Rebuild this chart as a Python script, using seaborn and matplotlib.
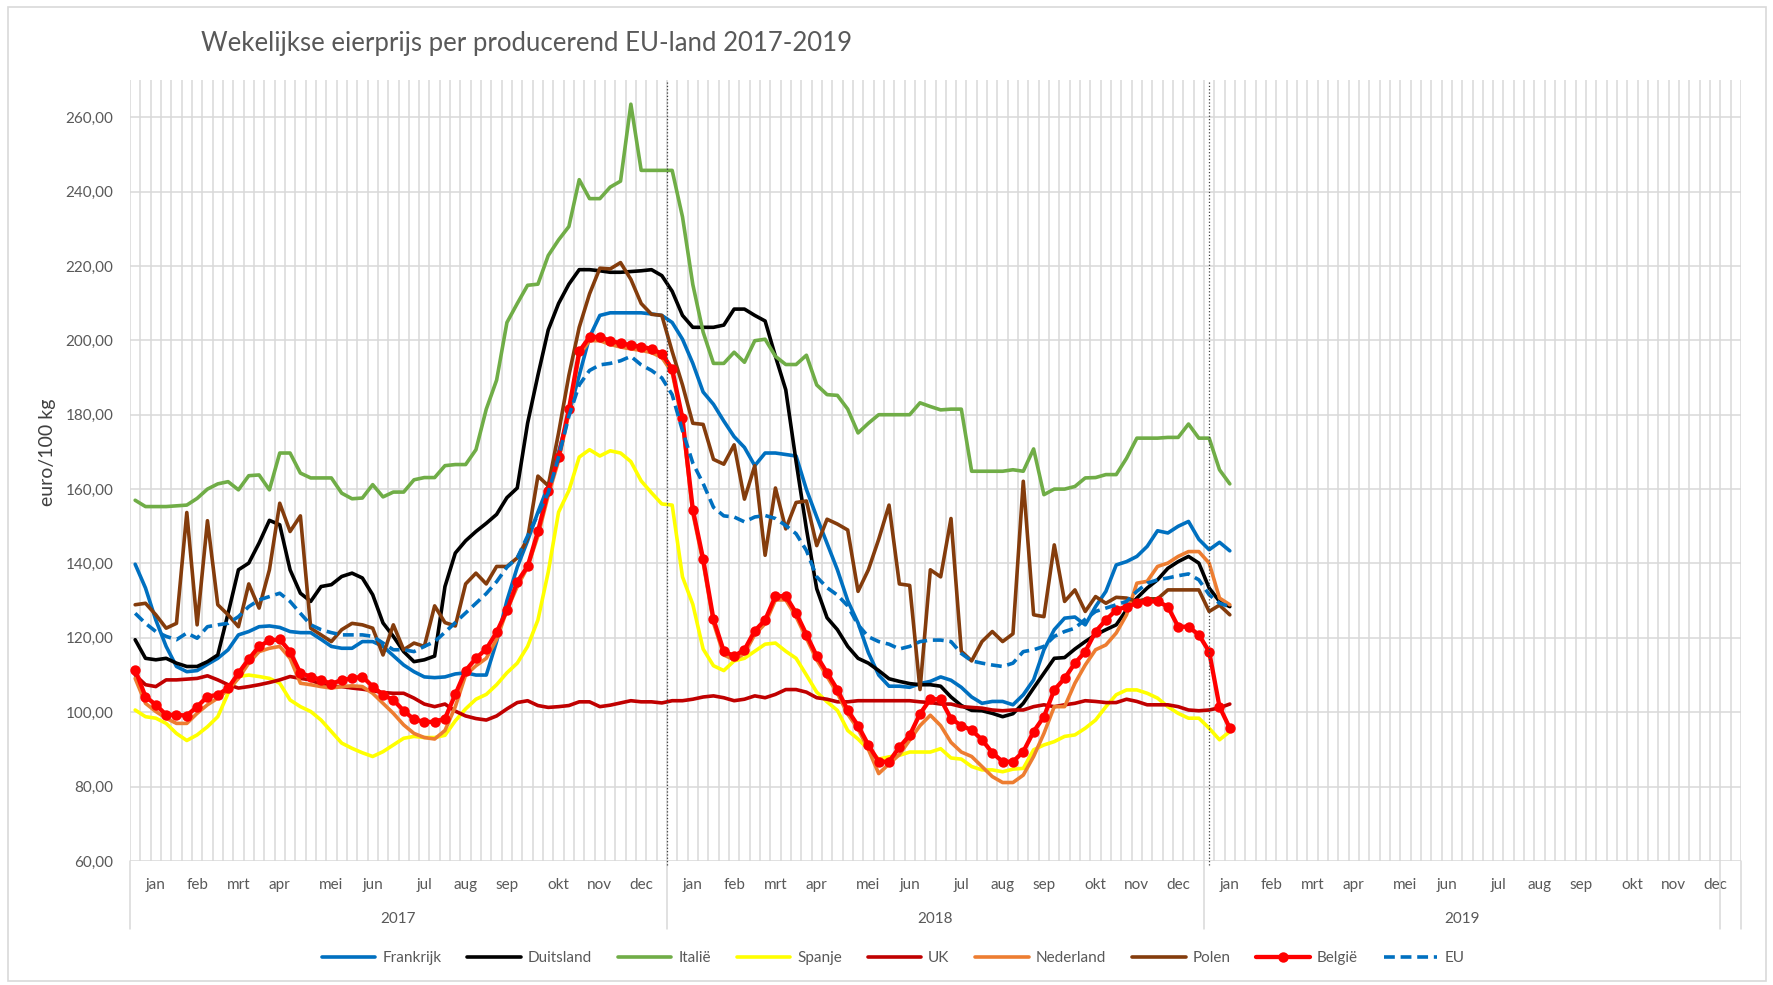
import numpy as np
import matplotlib
matplotlib.use("Agg")
import matplotlib.pyplot as plt
from matplotlib.patches import Rectangle
import seaborn as sns

# weekly prices (euro/100 kg), week 1 2017 .. week 3 2019
frankrijk = [139.8, 133.4, 124.8, 117.7, 112.3, 110.9, 111.2, 112.9, 114.5, 116.8,
             120.8, 121.7, 123.0, 123.2, 122.8, 121.7, 121.4, 121.4, 119.6, 117.7,
             117.2, 117.2, 119.0, 119.0, 117.7, 115.2, 112.7, 110.9,
             109.5, 109.3, 109.5, 110.3, 110.6, 110.0, 110.0, 119.0, 130.0, 139.0,
             146.1, 153.8, 160.9, 169.9, 180.3, 190.6, 200.9, 206.7, 207.4, 207.4,
             207.4, 207.4, 207.1, 206.7, 204.8, 200.3, 193.8,
             186.1, 182.8, 178.3, 174.1, 171.2, 166.3, 169.7, 169.7, 169.3, 168.9,
             159.9, 152.5, 145.4, 138.3, 130.0, 124.0, 116.0, 110.0, 107.0, 107.0,
             106.7, 107.7, 108.3, 109.5, 108.6, 106.7, 104.1,
             102.4, 102.9, 102.9, 102.0, 104.7, 108.7, 116.8, 122.2, 125.3, 125.6,
             123.5, 128.4, 132.5, 139.6, 140.5, 141.9, 144.6, 148.8, 148.2, 150.0,
             151.3, 146.5, 143.7, 145.7, 143.4]
duitsland = [119.5, 114.5, 114.1, 114.5, 113.2, 112.3, 112.3, 113.6, 115.4, 126.6,
             138.3, 140.1, 145.5, 151.6, 150.4, 138.3, 132.0, 129.8, 133.8, 134.3,
             136.5, 137.4, 136.1, 131.6, 124.0, 120.4, 116.3, 113.6,
             114.1, 115.1, 133.8, 142.8, 146.1, 148.6, 150.8, 153.2, 157.7, 160.3,
             177.7, 190.6, 202.8, 209.9, 215.1, 219.0, 219.0, 218.7, 218.3, 218.3,
             218.5, 218.7, 219.0, 217.4, 213.2, 206.7, 203.5,
             203.5, 203.5, 204.1, 208.4, 208.4, 206.7, 205.2, 195.7, 186.7, 167.4,
             149.3, 133.2, 125.4, 122.2, 117.7, 114.5, 113.2, 111.2, 109.0, 108.3,
             107.7, 107.4, 107.4, 107.0, 104.1, 101.8, 100.5,
             100.4, 99.7, 98.8, 99.6, 102.4, 106.5, 110.5, 114.5, 114.7, 117.0,
             119.0, 120.8, 122.2, 123.5, 127.5, 130.7, 133.4, 135.6, 138.7, 140.5,
             141.9, 140.1, 133.4, 129.8, 128.4]
italie = [157.0, 155.3, 155.3, 155.3, 155.5, 155.7, 157.5, 160.0, 161.4, 162.0,
          159.8, 163.6, 163.8, 159.8, 169.7, 169.7, 164.3, 163.0, 163.0, 163.0,
          158.9, 157.4, 157.6, 161.2, 157.9, 159.2, 159.2, 162.5,
          163.1, 163.1, 166.3, 166.6, 166.6, 170.6, 181.5, 189.3, 204.8, 209.9,
          214.8, 215.1, 222.8, 227.0, 230.6, 243.2, 238.1, 238.1, 241.2, 242.8,
          263.5, 245.7, 245.7, 245.7, 245.7, 233.2, 215.0,
          202.2, 193.8, 193.8, 196.8, 194.1, 199.9, 200.3, 195.7, 193.5, 193.5,
          196.0, 188.0, 185.4, 185.2, 181.5, 175.1, 177.7, 180.0, 180.0, 180.0,
          180.0, 183.2, 182.2, 181.3, 181.5, 181.5, 164.8,
          164.8, 164.8, 164.8, 165.2, 164.8, 170.8, 158.5, 160.0, 160.0, 160.7,
          163.0, 163.1, 163.9, 163.9, 168.3, 173.7, 173.7, 173.7, 173.9, 173.9,
          177.5, 173.7, 173.7, 165.2, 161.4]
spanje = [100.6, 98.8, 98.4, 97.0, 94.3, 92.4, 93.9, 96.1, 98.8, 105.1,
          109.6, 110.0, 109.6, 109.1, 107.8, 103.3, 101.5, 100.2, 97.9, 94.8,
          91.7, 90.3, 89.1, 88.1, 89.4, 91.2, 93.0, 93.5,
          93.2, 93.2, 93.8, 97.7, 100.9, 103.5, 104.8, 107.4, 110.6, 113.2,
          117.7, 124.8, 137.7, 153.8, 159.6, 168.6, 170.6, 168.9, 170.3, 169.7,
          167.4, 162.2, 159.0, 156.0, 155.7, 136.4, 129.0,
          117.0, 112.5, 111.2, 113.8, 114.5, 116.4, 118.3, 118.6, 116.4, 114.5,
          110.0, 105.4, 102.8, 100.5, 95.1, 92.8, 90.0, 87.4, 88.0, 88.4,
          89.3, 89.3, 89.3, 90.2, 87.7, 87.4, 85.4,
          84.5, 84.5, 84.0, 84.7, 84.9, 89.9, 91.2, 92.1, 93.5, 93.9,
          95.7, 97.9, 101.5, 104.7, 106.0, 106.0, 105.1, 103.8, 101.5, 99.7,
          98.4, 98.4, 95.7, 92.6, 94.8]
uk = [110.0, 107.4, 106.9, 108.7, 108.7, 108.9, 109.1, 109.8, 108.7, 107.4,
      106.5, 106.9, 107.4, 108.0, 108.7, 109.6, 109.1, 108.7, 107.4, 106.9,
      106.9, 106.5, 106.2, 105.8, 105.3, 105.1, 105.1, 103.8,
      102.2, 101.5, 102.2, 100.3, 99.0, 98.3, 97.9, 99.0, 100.9, 102.6,
      103.1, 101.8, 101.3, 101.5, 101.8, 102.8, 102.8, 101.5, 101.9, 102.5,
      103.1, 102.8, 102.8, 102.5, 103.1, 103.1, 103.5,
      104.1, 104.4, 103.9, 103.1, 103.5, 104.4, 103.9, 104.8, 106.1, 106.1,
      105.4, 103.9, 103.5, 102.8, 102.8, 103.1, 103.1, 103.1, 103.1, 103.1,
      103.1, 102.8, 102.6, 102.2, 102.2, 101.5, 101.3,
      101.1, 100.6, 100.4, 100.6, 100.6, 101.5, 102.0, 101.5, 102.0, 102.4,
      103.1, 102.9, 102.6, 102.6, 103.5, 102.9, 102.0, 102.0, 102.0, 101.5,
      100.6, 100.4, 100.6, 101.2, 102.2]
nederland = [109.1, 102.4, 100.2, 98.4, 97.0, 97.0, 99.7, 102.0, 103.8, 106.0,
             109.1, 113.2, 116.3, 117.2, 117.7, 114.5, 107.8, 107.4, 106.9, 106.5,
             106.9, 107.1, 106.9, 105.1, 102.4, 99.7, 96.6, 94.3,
             93.2, 92.8, 95.1, 101.5, 110.0, 112.5, 114.5, 119.6, 127.4, 133.8,
             139.0, 147.4, 158.3, 167.6, 180.5, 196.0, 199.9, 199.9, 198.9, 198.2,
             197.7, 197.3, 196.7, 195.4, 191.3, 178.0, 153.5,
             140.2, 124.0, 115.4, 114.1, 115.8, 120.9, 123.8, 130.2, 130.2, 125.7,
             119.9, 114.1, 109.6, 105.1, 99.5, 95.5, 90.0, 83.5, 86.1, 88.6,
             92.5, 96.4, 99.2, 96.4, 91.9, 89.3, 88.1,
             85.4, 82.7, 81.1, 81.1, 83.1, 88.1, 94.3, 101.5, 101.5, 107.8,
             112.7, 116.8, 118.1, 121.3, 126.2, 134.7, 135.2, 139.2, 140.1, 141.9,
             143.2, 143.2, 140.1, 130.7, 128.9]
polen = [128.9, 129.3, 126.2, 122.6, 123.9, 153.7, 123.5, 151.5, 128.9, 126.2,
         123.0, 134.5, 128.0, 138.3, 156.2, 148.6, 152.8, 122.6, 120.8, 119.0,
         122.2, 123.9, 123.5, 122.6, 115.4, 123.5, 116.8, 118.6,
         117.7, 128.6, 124.1, 123.2, 134.5, 137.4, 134.5, 139.2, 139.2, 141.5,
         146.7, 163.5, 160.9, 175.1, 190.6, 203.5, 212.5, 219.4, 219.2, 220.9,
         216.4, 209.9, 207.0, 206.7, 197.0, 188.0, 177.7,
         177.4, 168.0, 166.7, 171.9, 157.3, 166.3, 142.2, 160.3, 149.3, 156.4,
         156.8, 144.8, 151.9, 150.6, 149.0, 132.5, 138.3, 146.5, 155.7, 134.5,
         134.1, 106.1, 138.3, 136.4, 152.1, 116.4, 113.8,
         119.0, 121.7, 119.0, 121.1, 162.1, 126.2, 125.7, 145.0, 129.8, 132.9,
         127.1, 131.1, 129.3, 130.9, 130.7, 129.8, 130.5, 130.5, 132.9, 132.9,
         132.9, 132.9, 127.1, 128.8, 126.2]
belgie = [111.4, 104.2, 102.0, 99.3, 99.3, 99.1, 101.5, 104.2, 104.7, 106.5,
          110.5, 114.3, 117.7, 119.3, 119.6, 116.3, 110.5, 109.6, 108.7, 107.6,
          108.7, 109.1, 109.6, 106.9, 104.7, 103.3, 100.4, 98.1,
          97.4, 97.4, 98.3, 104.8, 111.2, 114.5, 117.0, 121.5, 127.4, 135.1,
          139.2, 148.6, 159.6, 168.6, 181.5, 197.0, 200.9, 200.9, 199.9, 199.2,
          198.7, 198.3, 197.7, 196.4, 192.3, 179.0, 154.5,
          141.2, 125.0, 116.4, 115.1, 116.8, 121.9, 124.8, 131.2, 131.2, 126.7,
          120.9, 115.1, 110.6, 106.1, 100.5, 96.4, 91.2, 86.7, 86.7, 90.6,
          93.8, 99.6, 103.5, 103.5, 98.3, 96.4, 95.2,
          92.6, 89.1, 86.7, 86.7, 89.4, 94.8, 98.8, 106.0, 109.1, 113.2,
          116.3, 121.7, 124.8, 127.5, 128.4, 129.3, 129.8, 129.8, 128.4, 123.0,
          123.0, 120.8, 116.3, 101.5, 95.7]
eu = [126.6, 123.9, 121.7, 120.4, 119.5, 121.3, 119.9, 123.0, 123.5, 123.9,
      125.7, 128.4, 130.2, 131.1, 132.0, 129.8, 126.6, 123.5, 122.2, 121.4,
      120.8, 120.8, 120.8, 120.4, 118.6, 116.8, 116.8, 116.3,
      117.7, 119.0, 121.5, 124.1, 126.7, 129.3, 131.9, 135.1, 139.0, 141.5,
      147.4, 153.2, 159.0, 168.6, 179.6, 188.0, 191.9, 193.4, 193.8, 194.5,
      195.7, 193.4, 191.9, 189.9, 185.4, 175.7, 167.0,
      161.5, 155.1, 152.8, 152.5, 151.2, 152.5, 152.9, 152.1, 150.2, 148.0,
      143.5, 136.4, 133.5, 131.5, 128.6, 123.5, 120.3, 119.0, 118.3, 117.0,
      117.7, 119.0, 119.4, 119.4, 119.0, 115.8, 113.8,
      113.2, 112.7, 112.3, 113.2, 116.3, 116.8, 117.7, 120.4, 121.7, 122.6,
      125.0, 127.1, 128.0, 128.9, 129.8, 132.5, 134.7, 135.6, 136.1, 136.7,
      137.2, 135.6, 131.6, 129.3, 128.4]

months = ['jan', 'feb', 'mrt', 'apr', 'mei', 'jun', 'jul', 'aug', 'sep', 'okt', 'nov', 'dec']
month_week = [2, 6, 10, 14, 19, 23, 28, 32, 36, 41, 45, 49]
years = ['2017', '2018', '2019']
year_start = [0, 52, 104]
year_end = [52, 104, 154]

series = [
    ('Frankrijk', frankrijk, '#0070C0', '-', 2.6, None),
    ('Duitsland', duitsland, '#000000', '-', 2.6, None),
    ('Italië', italie, '#70AD47', '-', 2.6, None),
    ('Spanje', spanje, '#FFFF00', '-', 2.6, None),
    ('UK', uk, '#C00000', '-', 2.6, None),
    ('Nederland', nederland, '#ED7D31', '-', 2.6, None),
    ('Polen', polen, '#843C0C', '-', 2.6, None),
    ('België', belgie, '#FF0000', '-', 3.1, 'o'),
    ('EU', eu, '#0070C0', (0, (3, 1.6)), 2.6, None),
]

sns.set_style('white')
plt.rcParams['font.family'] = ['Lato', 'DejaVu Sans']

fig = plt.figure(figsize=(17.73, 9.85), dpi=100)
ax = fig.add_axes([130 / 1773, 1 - 861 / 985, 1611 / 1773, 781 / 985])

weeks = np.arange(len(frankrijk))
for name, vals, col, ls, lw, mk in series:
    kw = dict(marker=mk, markersize=7.5, markeredgewidth=0) if mk else {}
    sns.lineplot(x=weeks, y=vals, ax=ax, color=col, linestyle=ls, linewidth=lw,
                 label=name, **kw)

ax.set_xlim(-0.5, 155.5)
ax.set_ylim(60, 270)

yt = np.arange(60, 261, 20)
ax.set_yticks(yt)
ax.set_yticklabels([f'{v:.2f}'.replace('.', ',') for v in yt], fontsize=11, color='#595959')

xt = [ys + w for ys in year_start for w in month_week]
ax.set_xticks(xt)
ax.set_xticklabels(months * 3, fontsize=11, color='#595959')
ax.set_xticks(np.arange(-0.5, 156, 1), minor=True)
ax.tick_params(axis='both', which='both', length=0)
ax.tick_params(axis='y', pad=12)
ax.tick_params(axis='x', pad=12)

ax.grid(False)
ax.grid(True, which='minor', axis='x', color='#D9D9D9', linewidth=1.1)
ax.grid(True, which='major', axis='y', color='#D9D9D9', linewidth=1.1)
for s in ax.spines.values():
    s.set_visible(False)
ax.set_xlabel('')
ax.set_ylabel('')

# year separators and year labels below the axis
tr = ax.get_xaxis_transform()
for b in [0, 52, 104, 154, 156]:
    ax.plot([b - 0.5, b - 0.5], [0, -0.087], transform=tr, color='#D9D9D9',
            linewidth=1.1, clip_on=False)
for y, a, b in zip(years, year_start, year_end):
    ax.text((a + b) / 2 - 0.5, -0.074, y, transform=tr, ha='center', va='center',
            fontsize=11, color='#595959')

# dotted year markers inside the plot
for xv in [51.5, 104.0]:
    ax.plot([xv, xv], [-0.005, 1], transform=tr, color='#404040', linewidth=0.9,
            linestyle=':', clip_on=False)

handles, labels = ax.get_legend_handles_labels()
ax.get_legend().remove()
fig.legend(handles, labels, loc='center', bbox_to_anchor=(893 / 1773, 1 - 958 / 985),
           ncol=9, frameon=False, fontsize=11, handlelength=3.5, handletextpad=0.45,
           columnspacing=1.7, labelcolor='#595959')

fig.text(527 / 1773, 1 - 43 / 985, 'Wekelijkse eierprijs per producerend EU-land 2017-2019',
         ha='center', va='center', fontsize=18.5, color='#595959')
fig.text(47 / 1773, 1 - 452 / 985, 'euro/100 kg', rotation=90, ha='center', va='center',
         fontsize=14, color='#404040')

fig.patches.append(Rectangle((8 / 1773, 4 / 985), 1758 / 1773, 974 / 985,
                             transform=fig.transFigure, fill=False,
                             edgecolor='#D9D9D9', linewidth=1.2))

fig.savefig('out.png', dpi=100)
